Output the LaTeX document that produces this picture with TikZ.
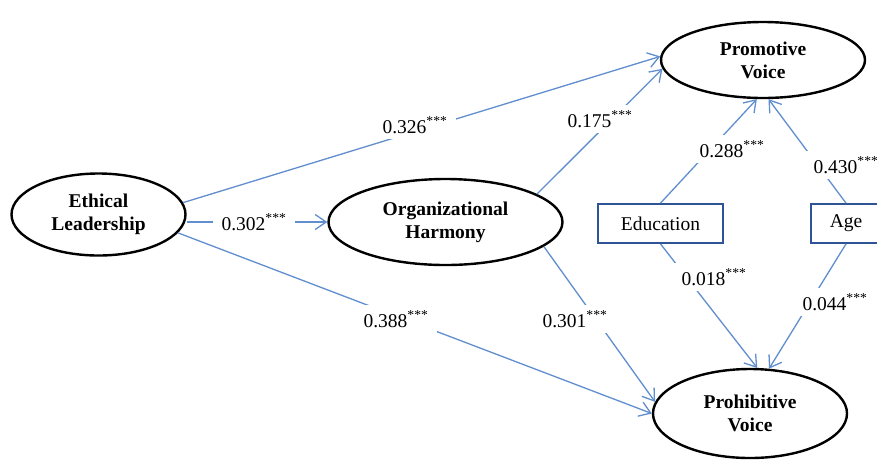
\documentclass[tikz,border=0pt]{standalone}
\usepackage{fontspec}
\setmainfont{Liberation Serif}
\usetikzlibrary{shapes.geometric,arrows.meta}
\definecolor{conn}{RGB}{96,142,206}
\definecolor{boxc}{RGB}{47,84,150}
\begin{document}
\begin{tikzpicture}[x=1pt,y=-1pt,
  font=\fontsize{19.5}{22}\selectfont,
  latent/.style={ellipse, draw=black, line width=2.4pt, inner sep=0pt, align=center, font=\fontsize{19.5}{23}\selectfont\bfseries},
  obs/.style={rectangle, draw=boxc, line width=1.8pt, inner sep=0pt},
  pth/.style={draw=conn, line width=1.3pt, -{Straight Barb[length=11pt,width=15pt]}},
  coef/.style={fill=white, inner xsep=9pt, inner ysep=6pt, anchor=base}]
\clip (0,0) rectangle (877,459);
\fill[white] (0,0) rectangle (877,459);
% nodes
\node[latent, minimum width=174pt, minimum height=82pt] (el) at (98.5,214.5) {Ethical\\Leadership};
\node[latent, minimum width=234pt, minimum height=86pt] (oh) at (445.5,222) {Organizational\\Harmony};
\node[latent, minimum width=204pt, minimum height=76pt] (pv) at (763,60) {Promotive\\Voice};
\node[latent, minimum width=194pt, minimum height=89pt] (prv) at (750,413.5) {Prohibitive\\Voice};
\node[obs, minimum width=125pt, minimum height=39pt] (edu) at (660.5,223.5) {Education};
\node[obs, minimum width=70pt, minimum height=39pt] (age) at (846,223.5) {Age};
% paths
\draw[pth] (el.8) -- (pv.178);
\draw[pth] (el.east |- oh.west) -- (oh.west);
\draw[pth] (el.-13) -- (prv.180);
\draw[pth] (oh.17) -- (pv.185);
\draw[pth] (oh.-14) -- (prv.173);
\draw[pth] (edu.north) -- (pv.261);
\draw[pth] (age.north) -- (pv.278);
\draw[pth] (edu.south) -- (prv.81);
\draw[pth] (age.south) -- (prv.67);
% coefficients
\node[coef] (c1) at (415,133) {0.326\textsuperscript{***}};
\node[coef] (c2) at (254,230) {0.302\textsuperscript{***}};
\node[coef] (c3) at (396,327) {0.388\textsuperscript{***}};
\node[coef] (c4) at (575,327) {0.301\textsuperscript{***}};
\node[coef] (c5) at (600,127) {0.175\textsuperscript{***}};
\node[coef] (c6) at (732,157) {0.288\textsuperscript{***}};
\node[coef] (c7) at (846,173) {0.430\textsuperscript{***}};
\node[coef] (c8) at (714,285) {0.018\textsuperscript{***}};
\node[coef] (c9) at (835,310) {0.044\textsuperscript{***}};
\end{tikzpicture}
\end{document}
